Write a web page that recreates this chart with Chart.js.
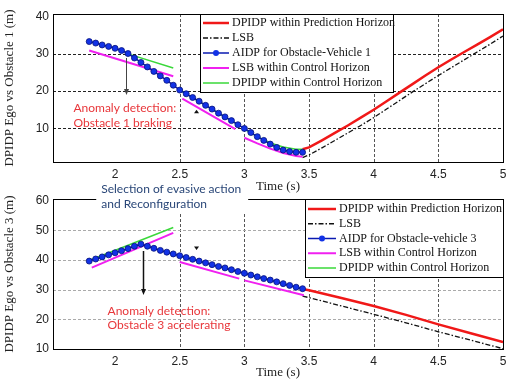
<!DOCTYPE html>
<html>
<head>
<meta charset="utf-8">
<script src="https://cdn.jsdelivr.net/npm/chart.js@4.4.1/dist/chart.umd.min.js"></script>
<style>
	body { margin: 0; background: #fff; }
	#wrap { position: relative; width: 517px; height: 380px; overflow: hidden; }
	#top { position: absolute; left: 0; top: 0; }
	#bottom { position: absolute; left: 0; top: 180px; }
</style>
</head>
<body>
<div id="wrap">
	<canvas id="top" width="517" height="194" style="width:517px;height:194px"></canvas>
	<canvas id="bottom" width="517" height="200" style="width:517px;height:200px"></canvas>
</div>
<script>
// ---- data: top panel (obstacle 1) ----
const xTicks = [2, 2.5, 3, 3.5, 4, 4.5, 5];
const topYTicks = [10, 20, 30, 40];
const bottomYTicks = [10, 20, 30, 40, 50, 60];

const aidpT = [1.8, 1.85, 1.9, 1.95, 2.0, 2.05, 2.1, 2.15, 2.2, 2.25, 2.3, 2.35, 2.4, 2.45, 2.5, 2.55, 2.6,
	2.65, 2.7, 2.75, 2.8, 2.85, 2.9, 2.95, 3.0, 3.05, 3.1, 3.15, 3.2, 3.25, 3.3, 3.35, 3.4, 3.45];
const aidp1 = [33.3, 32.9, 32.4, 32.0, 31.5, 30.9, 30.1, 28.9, 27.7, 26.5, 25.3, 24.1, 22.9, 21.6, 20.3, 19.3, 18.3,
	17.3, 16.2, 15.2, 14.1, 13.1, 12.1, 11.0, 10.0, 8.9, 7.8, 6.8, 5.8, 4.9, 4.2, 3.8, 3.6, 3.6];

const predT1 = [3.45, 3.5, 3.6, 3.7, 3.8, 3.9, 4.0, 4.1, 4.2, 4.3, 4.4, 4.5, 4.6, 4.7, 4.8, 4.9, 5.0];
const pred1 = [4.4, 4.9, 6.8, 8.8, 10.8, 12.9, 15.0, 17.3, 19.6, 21.9, 24.2, 26.4, 28.5, 30.5, 32.5, 34.5, 36.6];
const lsb1 = [2.2, 2.9, 4.8, 6.8, 8.8, 10.8, 12.9, 15.2, 17.5, 19.8, 22.0, 24.2, 26.3, 28.4, 30.5, 32.6, 34.8];

const lsbCtrlT1 = [1.8, 2.45, 2.48, 2.52, 2.93, 2.96, 3.0, 3.1, 3.2, 3.3, 3.4, 3.45];
const lsbCtrl1 = [30.9, 24.0, null, 18.0, 9.8, null, 7.5, 6.0, 4.6, 3.4, 2.6, 2.4];

const dpCtrlT1 = [2.1, 2.45, 2.48, 2.5, 2.95, 2.98, 3.0, 3.1, 3.2, 3.3, 3.4, 3.45];
const dpCtrl1 = [30.0, 26.2, null, 20.3, 11.0, null, 9.8, 7.8, 6.1, 5.0, 4.4, 4.4];

// ---- data: bottom panel (obstacle 3) ----
const aidp3 = [39.6, 40.3, 41.0, 41.7, 42.4, 43.1, 43.8, 44.6, 45.3, 44.6, 43.9, 43.2, 42.6, 42.0, 41.4, 40.8, 40.2,
	39.6, 39.0, 38.4, 37.8, 37.3, 36.7, 36.1, 35.5, 34.9, 34.3, 33.7, 33.2, 32.6, 32.0, 31.4, 30.8, 30.3];

const predT3 = [3.45, 3.5, 3.75, 4.0, 4.25, 4.5, 4.75, 5.0];
const pred3 = [30.2, 29.8, 27.2, 24.5, 21.5, 18.3, 15.3, 12.3];
const lsb3 = [27.8, 27.3, 24.5, 21.7, 18.8, 15.8, 13.0, 10.1];

const lsbCtrlT3 = [1.82, 2.45, 2.48, 2.5, 2.96, 2.98, 3.0, 3.46];
const lsbCtrl3 = [37.4, 49.1, null, 39.3, 33.7, null, 33.1, 28.1];

const dpCtrlT3 = [1.8, 2.45, 2.48, 2.5, 2.95, 2.98, 3.0, 3.45];
const dpCtrl3 = [39.8, 50.9, null, 41.3, 36.0, null, 35.4, 30.2];

function pts(xs, ys) {
	return xs.map((x, i) => ({ x: x, y: ys[i] }));
}

function makeSets(vehicle, aidp, predT, pred, lsb, lsbT, lsbCtrl, dpT, dpCtrl) {
	return [
		{ label: 'DPIDP within Prediction Horizon', data: pts(predT, pred), borderColor: '#f01818', borderWidth: 2.5, pointRadius: 0, order: 5 },
		{ label: 'LSB', data: pts(predT, lsb), borderColor: '#111', borderWidth: 1.3, borderDash: [5, 2, 1.5, 2], pointRadius: 0, order: 4 },
		{
			label: 'AIDP for Obstacle-' + vehicle, data: pts(aidpT, aidp), borderColor: '#0a1ab0', borderWidth: 1.5,
			pointRadius: 3, pointBackgroundColor: '#1232e6', pointBorderColor: '#06127a', pointBorderWidth: 0.8, order: 1,
		},
		{ label: 'LSB within Control Horizon', data: pts(lsbT, lsbCtrl), borderColor: '#f020f0', borderWidth: 2, pointRadius: 0, order: 3 },
		{ label: 'DPIDP within Control Horizon', data: pts(dpT, dpCtrl), borderColor: '#3ad83a', borderWidth: 1.5, pointRadius: 0, order: 2 },
	];
}

// dotted matlab grid, drawn under the lines
const dotGrid = {
	id: 'dotGrid',
	beforeDatasetsDraw(chart) {
		const opts = chart.config.options.plugins.dotGrid;
		const a = chart.chartArea;
		const ctx = chart.ctx;
		const sx = chart.scales.x;
		const sy = chart.scales.y;
		ctx.save();
		ctx.lineWidth = 1;
		ctx.setLineDash([3, 2]);
		ctx.strokeStyle = opts.vColor;
		opts.xs.forEach(function (v) {
			const x = Math.round(sx.getPixelForValue(v)) + 0.5;
			ctx.beginPath();
			ctx.moveTo(x, a.top);
			ctx.lineTo(x, a.bottom);
			ctx.stroke();
		});
		ctx.strokeStyle = opts.hColor;
		opts.ys.forEach(function (v) {
			const y = Math.round(sy.getPixelForValue(v)) + 0.5;
			ctx.beginPath();
			ctx.moveTo(a.left, y);
			ctx.lineTo(a.right, y);
			ctx.stroke();
		});
		ctx.restore();
	},
};

// box around the plot area
const frame = {
	id: 'frame',
	afterDraw(chart) {
		const a = chart.chartArea;
		const ctx = chart.ctx;
		ctx.save();
		ctx.strokeStyle = '#000';
		ctx.lineWidth = 1;
		ctx.strokeRect(Math.round(a.left) + 0.5, Math.round(a.top) + 0.5, Math.round(a.right - a.left), Math.round(a.bottom - a.top));
		ctx.restore();
	},
};

// matlab style legend box
const boxLegend = {
	id: 'boxLegend',
	afterDraw(chart, args, opts) {
		const ctx = chart.ctx;
		ctx.save();
		ctx.fillStyle = '#fff';
		ctx.fillRect(opts.left, opts.top, opts.width, opts.height);
		ctx.strokeStyle = '#000';
		ctx.lineWidth = 1;
		ctx.strokeRect(opts.left + 0.5, opts.top + 0.5, opts.width, opts.height);
		ctx.font = '12px "Liberation Serif"';
		ctx.textBaseline = 'middle';
		chart.data.datasets.forEach(function (ds, i) {
			const y = opts.top + opts.first + i * opts.step;
			const x0 = opts.left + 3;
			const x1 = x0 + opts.sample;
			ctx.strokeStyle = ds.borderColor;
			ctx.lineWidth = ds.borderWidth;
			ctx.setLineDash(ds.borderDash || []);
			ctx.beginPath();
			ctx.moveTo(x0, y);
			ctx.lineTo(x1, y);
			ctx.stroke();
			ctx.setLineDash([]);
			if (ds.pointRadius) {
				ctx.fillStyle = ds.pointBackgroundColor;
				ctx.beginPath();
				ctx.arc((x0 + x1) / 2, y, ds.pointRadius, 0, Math.PI * 2);
				ctx.fill();
			}
			ctx.fillStyle = '#111';
			ctx.fillText(ds.label, x1 + 3, y);
		});
		ctx.restore();
	},
};

// annotation texts / arrows in data units
const notes = {
	id: 'notes',
	afterDraw(chart, args, opts) {
		const ctx = chart.ctx;
		const sx = chart.scales.x;
		const sy = chart.scales.y;
		ctx.save();
		(opts.arrows || []).forEach(function (a) {
			const x = Math.round(sx.getPixelForValue(a.x)) + 0.5;
			const y1 = sy.getPixelForValue(a.y1);
			const y2 = sy.getPixelForValue(a.y2);
			ctx.strokeStyle = a.color;
			ctx.fillStyle = a.color;
			ctx.lineWidth = a.width;
			ctx.beginPath();
			ctx.moveTo(x, y1);
			ctx.lineTo(x, y2 - 5);
			ctx.stroke();
			ctx.beginPath();
			ctx.moveTo(x - 2.5, y2 - 6);
			ctx.lineTo(x + 2.5, y2 - 6);
			ctx.lineTo(x, y2);
			ctx.closePath();
			ctx.fill();
		});
		(opts.marks || []).forEach(function (m) {
			const x = sx.getPixelForValue(m.x);
			const y = sy.getPixelForValue(m.y);
			const d = m.dir === 'up' ? -1 : 1;
			ctx.fillStyle = '#111';
			ctx.beginPath();
			ctx.moveTo(x - 2.5, y - 1.5 * d);
			ctx.lineTo(x + 2.5, y - 1.5 * d);
			ctx.lineTo(x, y + 2 * d);
			ctx.closePath();
			ctx.fill();
		});
		(opts.texts || []).forEach(function (t) {
			ctx.font = t.font;
			ctx.textBaseline = 'middle';
			const x = sx.getPixelForValue(t.x);
			const ys = t.lines.map((s, i) => sy.getPixelForValue(t.y) + i * t.lineH);
			if (t.bg) {
				const w = Math.max.apply(null, t.lines.map(s => ctx.measureText(s).width));
				ctx.fillStyle = '#fff';
				ctx.fillRect(x - 5, ys[0] - t.lineH / 2 - 1, w + 12, t.lineH * t.lines.length + 2);
			}
			ctx.fillStyle = t.color;
			t.lines.forEach((s, i) => ctx.fillText(s, x, ys[i]));
		});
		ctx.restore();
	},
};

const tickFont = { family: 'Liberation Sans', size: 12 };
const titleFont = { family: 'Liberation Serif', size: 13 };

function makeOptions(o) {
	return {
		responsive: false,
		animation: false,
		spanGaps: false,
		layout: { padding: { left: 0, top: o.padTop, right: 14, bottom: 0 } },
		plugins: {
			legend: { display: false },
			tooltip: { enabled: false },
			dotGrid: o.grid,
			boxLegend: o.legend,
			notes: o.notes,
		},
		scales: {
			x: {
				type: 'linear',
				min: 1.52,
				max: 5,
				afterBuildTicks: function (s) {
					s.ticks = xTicks.map(v => ({ value: v }));
				},
				afterFit: function (s) {
					s.height = o.xHeight;
				},
				ticks: { font: tickFont, color: '#222', padding: 5, maxRotation: 0, callback: v => String(v) },
				grid: { display: false, drawTicks: false },
				border: { display: false },
				title: { display: true, text: 'Time (s)', font: titleFont, color: '#222', padding: { top: 0, bottom: 0 } },
			},
			y: {
				type: 'linear',
				min: o.yMin,
				max: o.yMax,
				afterBuildTicks: function (s) {
					s.ticks = o.yTicks.map(v => ({ value: v }));
				},
				afterFit: function (s) {
					s.width = 53;
				},
				ticks: { font: tickFont, color: '#222', padding: 4 },
				grid: { display: false, drawTicks: false },
				border: { display: false },
				title: { display: true, text: o.yTitle, font: titleFont, color: '#222', padding: { top: 2, bottom: 0 } },
			},
		},
	};
}

new Chart(document.getElementById('top'), {
	type: 'line',
	data: { datasets: makeSets('Vehicle 1', aidp1, predT1, pred1, lsb1, lsbCtrlT1, lsbCtrl1, dpCtrlT1, dpCtrl1) },
	options: makeOptions({
		padTop: 14,
		xHeight: 32,
		yMin: 1,
		yMax: 40.7,
		yTicks: topYTicks,
		yTitle: 'DPIDP Ego vs Obstacle 1 (m)',
		grid: { xs: [2.5, 3, 3.5, 4, 4.5], ys: [10, 20, 30], vColor: '#555', hColor: '#222' },
		legend: { left: 200, top: 14, width: 193, height: 78, first: 9, step: 15, sample: 26 },
		notes: {
			arrows: [{ x: 2.085, y1: 28.9, y2: 19.0, color: '#444', width: 1 }],
			marks: [{ x: 2.63, y: 14.5, dir: 'up' }],
			texts: [{ x: 1.678, y: 15.5, lines: ['Anomaly detection:', 'Obstacle 1 braking'], lineH: 15, color: '#e8363a', font: '12px Lato' }],
		},
	}),
	plugins: [dotGrid, frame, boxLegend, notes],
});

new Chart(document.getElementById('bottom'), {
	type: 'line',
	data: { datasets: makeSets('vehicle 3', aidp3, predT3, pred3, lsb3, lsbCtrlT3, lsbCtrl3, dpCtrlT3, dpCtrl3) },
	options: makeOptions({
		padTop: 19,
		xHeight: 31,
		yMin: 10,
		yMax: 60.5,
		yTicks: bottomYTicks,
		yTitle: 'DPIDP Ego vs Obstacle 3 (m)',
		grid: { xs: [2.5, 3, 3.5, 4, 4.5], ys: [20, 30, 40, 50], vColor: '#555', hColor: '#aaa' },
		legend: { left: 305, top: 19, width: 198, height: 78, first: 10, step: 14.75, sample: 28 },
		notes: {
			arrows: [{ x: 2.216, y1: 43.0, y2: 28.2, color: '#111', width: 1.5 }],
			marks: [{ x: 2.63, y: 44.0, dir: 'down' }],
			texts: [
				{ x: 1.893, y: 63.7, lines: ['Selection of evasive action', 'and Reconfiguration'], lineH: 15, color: '#2a4778', font: '12px Lato', bg: true },
				{ x: 1.942, y: 22.8, lines: ['Anomaly detection:', 'Obstacle 3 accelerating'], lineH: 14, color: '#e8363a', font: '12px Lato' },
			],
		},
	}),
	plugins: [dotGrid, frame, boxLegend, notes],
});
</script>
</body>
</html>
